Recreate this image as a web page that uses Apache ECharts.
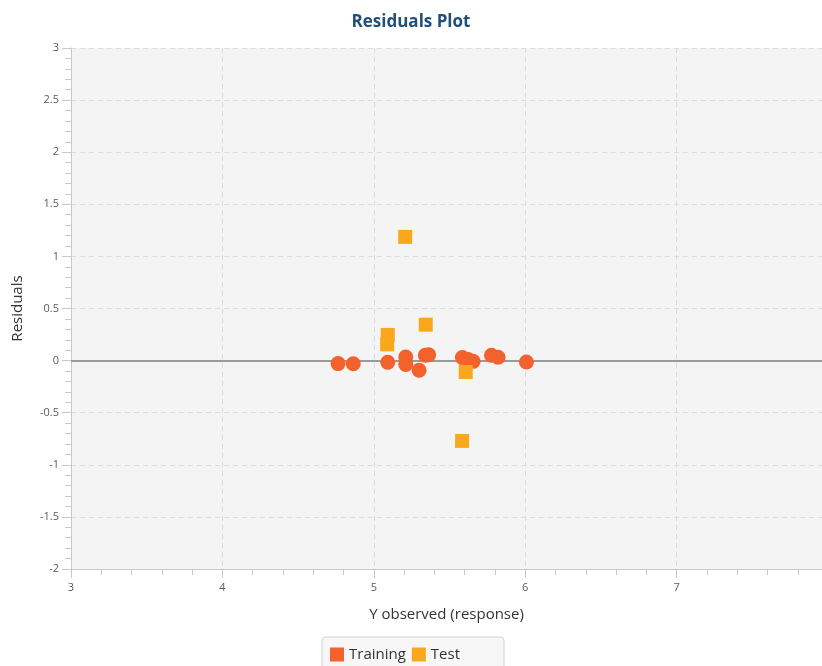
<!DOCTYPE html>
<html>
<head>
<meta charset="utf-8">
<script src="https://cdn.jsdelivr.net/npm/echarts@6/dist/echarts.min.js"></script>
<style>
  html, body { margin: 0; padding: 0; background: #ffffff; }
  #chart { width: 822px; height: 666px; }
</style>
</head>
<body>
<div id="chart"></div>
<script>
// Residuals of the fitted model, split by data partition: [Y observed, residual]
const trainingPoints = [
  [4.764, -0.029], [4.864, -0.030], [5.092, -0.016], [5.211, 0.035],
  [5.211, -0.038], [5.299, -0.093], [5.340, 0.052], [5.362, 0.056],
  [5.585, 0.029], [5.623, 0.010], [5.656, -0.007], [5.777, 0.051],
  [5.821, 0.032], [6.008, -0.013]
];
const testPoints = [
  [5.207, 1.187], [5.092, 0.246], [5.088, 0.156], [5.343, 0.345],
  [5.607, -0.109], [5.583, -0.771]
];
const seriesNames = ['Training', 'Test'];
const xRange = [3, 7.96];
const yRange = [-2, 3];

const axisLabelStyle = { color: '#5a5a5a', fontSize: 11, fontFamily: 'Open Sans' };
const splitStyle = { show: true, lineStyle: { color: '#dcdcdc', type: [5, 4], width: 1 } };

const chart = echarts.init(document.getElementById('chart'), null, { renderer: 'canvas' });
chart.setOption({
  backgroundColor: '#ffffff',
  animation: false,
  title: {
    text: 'Residuals Plot',
    left: 'center',
    top: 9,
    textStyle: { color: '#1f5079', fontSize: 17, fontWeight: 'bold', fontFamily: 'Open Sans' }
  },
  grid: {
    left: 71, right: 0, top: 48, bottom: 97,
    show: true, backgroundColor: '#f4f4f4', borderWidth: 0
  },
  legend: {
    data: seriesNames.map(n => ({ name: n, icon: 'rect' })),
    left: 322, top: 637,
    itemWidth: 14, itemHeight: 14, itemGap: 6,
    padding: [10, 44, 10, 8],
    backgroundColor: '#f7f7f7',
    borderColor: '#d2d2d2', borderWidth: 1, borderRadius: 4,
    textStyle: { color: '#333333', fontSize: 15, fontFamily: 'Open Sans' }
  },
  xAxis: {
    type: 'value',
    min: xRange[0], max: xRange[1], interval: 1,
    name: 'Y observed (response)',
    nameLocation: 'middle', nameGap: 38,
    nameTextStyle: { color: '#333333', fontSize: 15, fontFamily: 'Open Sans' },
    axisLine: { show: true, onZero: false, lineStyle: { color: '#c8c8c8', width: 1 } },
    axisTick: { show: true, length: 9, lineStyle: { color: '#c8c8c8' } },
    minorTick: { show: true, splitNumber: 5, length: 6, lineStyle: { color: '#c8c8c8' } },
    axisLabel: Object.assign({
      margin: 13, showMaxLabel: false,
      formatter: v => (Number.isInteger(v) ? String(v) : '')
    }, axisLabelStyle),
    splitLine: splitStyle
  },
  yAxis: {
    type: 'value',
    min: yRange[0], max: yRange[1], interval: 0.5,
    name: 'Residuals',
    nameLocation: 'middle', nameGap: 46, nameRotate: 90,
    nameTextStyle: { color: '#333333', fontSize: 15, fontFamily: 'Open Sans' },
    axisLine: { show: true, onZero: false, lineStyle: { color: '#c8c8c8', width: 1 } },
    axisTick: { show: true, length: 9, lineStyle: { color: '#c8c8c8' } },
    minorTick: { show: true, splitNumber: 5, length: 6, lineStyle: { color: '#c8c8c8' } },
    axisLabel: Object.assign({ margin: 12 }, axisLabelStyle),
    splitLine: splitStyle
  },
  series: [
    {
      name: seriesNames[0],
      type: 'scatter',
      data: trainingPoints,
      symbol: 'circle',
      symbolSize: 15,
      itemStyle: { color: '#f3622d', opacity: 1 },
      z: 3,
      markLine: {
        silent: true,
        symbol: 'none',
        label: { show: false },
        lineStyle: { color: '#9a9a9a', type: 'solid', width: 2 },
        data: [{ yAxis: 0 }],
        z: 1
      }
    },
    {
      name: seriesNames[1],
      type: 'scatter',
      data: testPoints,
      symbol: 'rect',
      symbolSize: 14,
      itemStyle: { color: '#fba71b', opacity: 1 },
      z: 4
    }
  ]
});
</script>
</body>
</html>
